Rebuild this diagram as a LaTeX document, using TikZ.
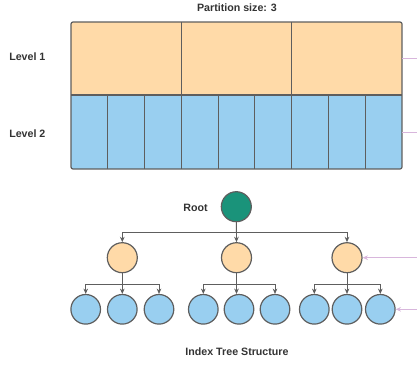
\documentclass[tikz,border=0pt]{standalone}
\usepackage{fontspec}
\setmainfont{Liberation Sans}
\usetikzlibrary{arrows.meta}
\definecolor{orangef}{HTML}{FFDAA8}
\definecolor{bluef}{HTML}{99CFF0}
\definecolor{greenf}{HTML}{1A937A}
\definecolor{strokec}{HTML}{5E5E5E}
\definecolor{pinkc}{HTML}{D8B6DC}
\definecolor{txtc}{HTML}{333333}
\tikzset{
  cellbox/.style={draw=strokec, line width=0.9pt},
  lbl/.style={font=\bfseries\fontsize{8pt}{10pt}\selectfont, text=txtc, inner sep=0pt},
  tnode/.style={circle, draw=strokec, line width=0.9pt, minimum size=22.5pt, inner sep=0pt},
  rootn/.style={tnode, fill=greenf},
  midn/.style={tnode, fill=orangef},
  leafn/.style={tnode, fill=bluef, minimum size=22.2pt},
  treearrow/.style={draw=strokec, line width=0.6pt, -{Stealth[length=4pt,width=3.5pt]}},
  pinkarrow/.style={draw=pinkc, line width=0.6pt, -{Stealth[length=4pt,width=3.5pt]}},
}
\begin{document}
\begin{tikzpicture}[x=0.75pt,y=-0.75pt]
\useasboundingbox (0,0) rectangle (417,364);
% level 1 cells
\foreach \i in {0,1,2}{
  \fill[orangef] ({71+110.33*\i},22) rectangle ({71+110.33*(\i+1)},95);
}
\foreach \i in {0,...,8}{
  \fill[bluef] ({71+36.777*\i},95) rectangle ({71+36.777*(\i+1)},169);
}
\foreach \i in {1,...,8}{
  \draw[strokec, line width=0.9pt] ({71+36.777*\i},95) -- ({71+36.777*\i},169);
}
\foreach \i in {1,2}{
  \draw[strokec, line width=0.9pt] ({71+110.33*\i},22) -- ({71+110.33*\i},95);
}
\draw[strokec, line width=0.9pt] (71,95) -- (402,95);
\draw[cellbox, rounded corners=1.5pt] (71,22) rectangle (402,169);

\coordinate (l1out) at (402,58);
\coordinate (l2out) at (402,132);

\node[lbl] (title) at (237,8) {Partition size: 3};
\node[lbl, anchor=west] (lev1) at (9,57) {Level 1};
\node[lbl, anchor=west] (lev2) at (9,134) {Level 2};

% tree
\node[rootn] (root) at (236.3,206.7) {};
\node[lbl, anchor=east] (rootl) at (208,208) {Root};
\node[midn] (m1) at (122.3,257.7) {};
\node[midn] (m2) at (236.5,257.7) {};
\node[midn] (m3) at (347,257.7) {};
\node[leafn] (a1) at (85.7,309.3) {};
\node[leafn] (a2) at (122.3,309.3) {};
\node[leafn] (a3) at (159,309.3) {};
\node[leafn] (b1) at (203.3,309.3) {};
\node[leafn] (b2) at (239,309.3) {};
\node[leafn] (b3) at (275,309.3) {};
\node[leafn] (c1) at (314.3,309.3) {};
\node[leafn] (c2) at (347,309.3) {};
\node[leafn] (c3) at (380.3,309.3) {};

\coordinate (rb) at (236.3,232.3);
\draw[treearrow] (root.south) -- (rb) -| (m1.north);
\draw[treearrow] (root.south) -- (m2.north);
\draw[treearrow] (rb) -| (m3.north);

\coordinate (ba) at (122.3,284);
\coordinate (bb) at (236.5,284);
\coordinate (bc) at (347,284);
\draw[treearrow] (m1.south) -- (ba) -| (a1.north);
\draw[treearrow] (ba) -- (a2.north);
\draw[treearrow] (ba) -| (a3.north);
\draw[treearrow] (m2.south) -- (bb) -| (b1.north);
\draw[treearrow] (bb) -- (bb |- b2.north);
\draw[treearrow] (bb) -| (b3.north);
\draw[treearrow] (m3.south) -- (bc) -| (c1.north);
\draw[treearrow] (bc) -- (c2.north);
\draw[treearrow] (bc) -| (c3.north);

% pink links
\draw[pinkarrow] (l1out) -- (417,58) -- (417,257.7) -- (m3.east);
\draw[pinkarrow] (l2out) -- (417.2,132) -- (417.2,309.3) -- (c3.east);

\node[lbl] (caption) at (237,352) {Index Tree Structure};
\end{tikzpicture}
\end{document}
